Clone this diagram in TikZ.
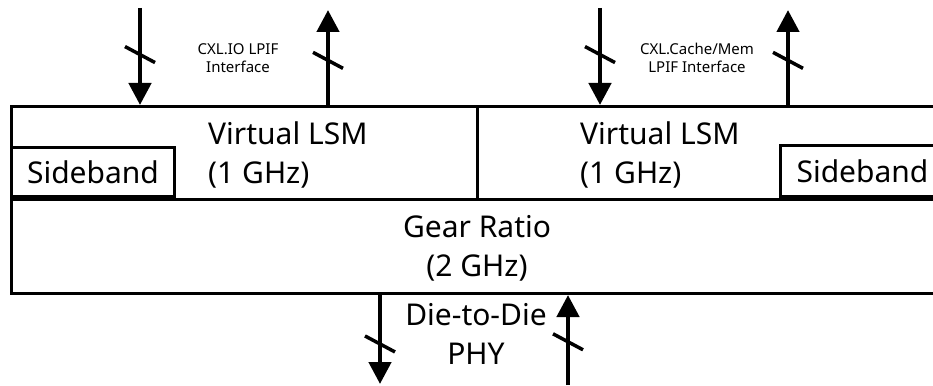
\documentclass[tikz,border=0pt]{standalone}
\usepackage{fontspec}
\setmainfont{Noto Sans}
\usetikzlibrary{arrows.meta}
\usetikzlibrary{decorations.markings}

\begin{document}
\begin{tikzpicture}[x=1pt, y=-1pt,
  box/.style={draw, line width=3pt, inner sep=0pt},
  txt/.style={font=\fontsize{30}{39}\selectfont, align=left, inner sep=0pt},
  lbl/.style={font=\fontsize{15}{18}\selectfont, align=center, inner sep=0pt},
  bus/.style={line width=4.5pt, -{Triangle[length=22pt,width=22pt]},
    postaction={decorate},
    decoration={markings, mark=at position #1 with {\draw[-, line width=3.5pt] (-8pt,-15pt) -- (8pt,15pt);}}}]

\useasboundingbox (0,0) rectangle (933,385);

% blocks
\node[box, anchor=north west, minimum width=466pt, minimum height=93pt] (lsmL) at (10,105) {};
\node[box, anchor=north west, minimum width=467pt, minimum height=93pt] (lsmR) at (476,105) {};
\node[box, anchor=north west, minimum width=933pt, minimum height=94pt] (gear) at (10,198) {};
\node[box, txt, anchor=south west, minimum width=163pt, minimum height=49pt] (sbL) at (10,198) {Sideband};
\node[box, txt, anchor=south west, minimum width=164pt, minimum height=51pt] (sbR) at (779,198) {Sideband};

\node[txt, anchor=west] (lsmLtxt) at (208,155) {Virtual LSM\\(1 GHz)};
\node[txt, anchor=west] (lsmRtxt) at (580,155) {Virtual LSM\\(1 GHz)};
\node[txt, align=center] (geartxt) at (477,248) {Gear Ratio\\(2 GHz)};
\node[txt, align=center] (phy) at (476,334) {Die-to-Die\\PHY};

\node[lbl] (cxlio) at (238,58) {CXL.IO LPIF\\Interface};
\node[lbl] (cxlcm) at (697,58) {CXL.Cache/Mem\\LPIF Interface};

% buses
\coordinate (ioIn) at (140,8);
\coordinate (ioOut) at (328,10);
\coordinate (cmIn) at (600,8);
\coordinate (cmOut) at (788,10);
\coordinate (phyOut) at (380,384);
\coordinate (phyIn) at (568,385);

\foreach \a/\p in {ioIn/0.48, cmIn/0.48}
  \draw[bus=\p] (\a) -- (\a |- lsmL.north);
\foreach \a/\p in {ioOut/0.47, cmOut/0.47}
  \draw[bus=\p] (\a |- lsmL.north) -- (\a);
\draw[bus=0.55] (phyOut |- gear.south) -- (phyOut);
\draw[bus=0.48] (phyIn) -- (phyIn |- gear.south);
%
\end{tikzpicture}
\end{document}
